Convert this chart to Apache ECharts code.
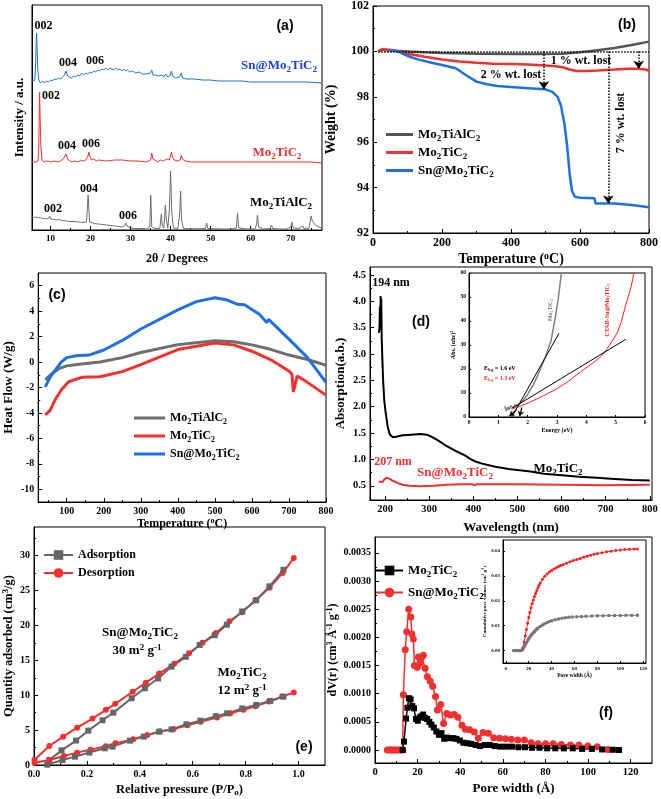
<!DOCTYPE html>
<html><head><meta charset="utf-8">
<script src="https://cdn.jsdelivr.net/npm/echarts@6/dist/echarts.min.js"></script>
<style>html,body{margin:0;padding:0;background:#fff}#c{width:661px;height:799px}</style>
</head><body><div id="c"></div>
<script>
// ---------------- DATA ----------------
// (a) XRD, intensity in arbitrary offset units
const xrdSn = [[5.4,149],[5.8,148],[6.1,150],[6.3,165],[6.45,188],[6.55,197],[6.68,182],[6.85,160],[7.1,150],[7.5,147],[8,149],[8.5,147],[9,149],[9.5,148],[10,150],[10.5,149],[11,151],[11.5,150],[12,152],[12.5,151],[13,153],[13.5,155],[13.9,159],[14.3,154],[14.8,153],[15.3,152],[15.8,154],[16.3,153],[16.8,155],[17.3,154],[17.8,157],[18.3,155],[18.8,157],[19.3,156],[19.8,158],[20.3,157],[20.8,159],[21.3,158],[21.8,160],[22.3,159],[22.8,161],[23.3,160],[23.8,162],[24.3,160],[24.8,162],[25.3,161],[25.8,160],[26.3,162],[26.8,160],[27.3,161],[27.8,159],[28.3,161],[28.8,159],[29.3,160],[29.8,158],[30.5,159],[31.3,157],[32.1,158],[33,156],[34,156],[35,157],[35.3,160],[35.6,155],[36.3,155],[37,154],[37.8,155],[38.3,153],[38.8,156],[39.3,153],[39.8,154],[40.2,159],[40.5,154],[41.3,152],[42.2,153],[42.7,157],[43,152],[44,151],[46,151],[48,150],[50,150],[52,149],[55,149],[58,149],[60,148],[63,148],[66,148],[70,148],[74,148],[77.8,147]];
const xrdMx = [[5.4,68],[6.3,68],[6.9,69],[7.1,85],[7.22,120],[7.3,138],[7.4,118],[7.6,85],[7.9,70],[8.4,68],[9,69],[10,68],[11,69],[12,68],[12.9,70],[13.5,73],[13.9,76],[14.3,71],[14.8,69],[15.5,68],[16,69],[17,68],[17.5,70],[18,69],[18.8,70],[19.3,73],[19.6,78],[19.9,73],[20.3,70],[20.8,71],[21.5,69],[22,70],[24,69],[26,70],[28,70],[30,69],[32,69],[34,68],[35,70],[35.3,77],[35.6,71],[36,69],[36.8,68],[37.5,70],[37.8,72],[38.2,69],[39,71],[39.7,70],[40.0,74],[40.2,78],[40.45,73],[40.9,70],[41.8,69],[42.4,70],[42.7,75],[43,71],[43.6,69],[45,68],[48,68],[52,68],[56,68],[60,68],[65,68],[70,68],[75,68],[77.8,67]];
const xrdMax = [[5.4,13],[6,12.5],[6.5,13],[7,12],[7.5,12.5],[8,11.5],[8.5,11.5],[9,11],[9.5,11.5],[9.8,14],[10.1,11],[10.5,10.5],[11.5,10],[12,10.5],[13,9.5],[14,9],[15,8.5],[16,8.5],[17,8],[18,7.5],[19,8],[19.2,20],[19.4,35],[19.6,20],[19.8,8],[20,7],[21,6.5],[22,6],[23,5.5],[24,5],[25,4.5],[26,4],[27,3.5],[28,3],[28.6,4.5],[28.85,7],[29.1,4],[29.5,2.5],[30,2],[31,1.5],[32,1.5],[33,1.5],[34,1.2],[34.8,3],[35.05,35],[35.3,3],[35.8,2],[36.1,4],[36.4,1.5],[37.3,1.5],[37.5,8],[37.7,16],[37.9,5],[38.3,2],[38.5,12],[38.7,25],[38.9,12],[39.3,2],[39.7,20],[40.0,59],[40.3,18],[40.7,2],[41.8,1.5],[42.25,15],[42.5,39],[42.75,10],[43.2,1.5],[45,1.2],[47,1.2],[48.7,1.5],[49,7],[49.3,1.5],[51,1.2],[53,1],[55,1],[56.4,2],[56.7,17],[57,2],[59,1],[61,1],[61.45,5],[61.7,15],[62,3],[63,1],[64.9,1.5],[65.2,5],[65.5,1.5],[67,1],[69,1],[70.0,3],[70.3,8],[70.6,2],[72,1.5],[73,4],[73.3,1.5],[74.6,2],[74.9,10],[75.1,14],[75.4,9],[75.7,10],[76.1,5],[77,3],[77.8,2]];
const xrdTicks = [10,20,30,40,50,60,70];

// (b) TGA weight %
const tgaMax = [[15,100.0],[25,100.08],[40,100.05],[60,100.03],[100,100.0],[150,99.96],[200,99.93],[300,99.9],[400,99.88],[500,99.88],[550,99.9],[600,99.96],[650,100.05],[700,100.15],[750,100.28],[800,100.43]];
const tgaMx = [[15,100.0],[25,100.08],[40,100.08],[60,100.05],[80,99.98],[100,99.9],[150,99.76],[200,99.64],[250,99.55],[300,99.5],[350,99.46],[400,99.44],[450,99.42],[500,99.38],[530,99.35],[550,99.3],[570,99.2],[590,99.14],[620,99.14],[650,99.16],[700,99.2],[740,99.24],[770,99.24],[790,99.2],[800,99.15]];
const tgaSn = [[45,100.05],[60,100.05],[80,99.95],[100,99.8],[130,99.65],[170,99.5],[200,99.4],[240,99.26],[270,98.95],[300,98.67],[330,98.55],[360,98.48],[400,98.43],[450,98.38],[500,98.33],[520,98.22],[535,98.0],[545,97.6],[555,96.8],[563,95.8],[570,94.6],[577,93.85],[585,93.6],[600,93.55],[642,93.53],[645,93.3],[700,93.3],[750,93.23],[800,93.13]];
const tgaBase = [[15,100],[800,100]];
const tgaArrows = [[495,98.33],[682,93.3],[770,99.24]];

// (c) DSC heat flow
const dscMax = [[42,-1.4],[60,-0.9],[80,-0.5],[100,-0.3],[140,-0.15],[190,0],[250,0.35],[300,0.75],[400,1.37],[500,1.68],[550,1.6],[600,1.35],[650,1.0],[700,0.55],[750,0.2],[800,-0.25]];
const dscMx = [[42,-4.15],[55,-3.8],[70,-2.9],[85,-2.2],[105,-1.55],[140,-1.2],[190,-1.15],[250,-0.75],[300,-0.2],[400,0.98],[500,1.5],[550,1.35],[600,0.85],[650,0.2],[700,-0.7],[708,-0.95],[712,-2.35],[716,-2.2],[722,-1.1],[740,-1.4],[800,-2.6]];
const dscSn = [[42,-1.95],[55,-1.2],[70,-0.6],[85,0.0],[100,0.35],[125,0.5],[160,0.55],[200,0.95],[250,1.7],[300,2.6],[400,4.1],[450,4.75],[500,5.05],[530,4.9],[560,4.55],[580,4.5],[620,3.75],[640,3.1],[645,3.35],[700,1.8],[750,0.35],[800,-1.6]];

// (d) UV-vis absorption
const uvMx = [[186,3.4],[187.5,3.5],[188.5,3.9],[189.3,3.45],[190,4.1],[190.8,3.5],[191.5,4.05],[192.5,3.3],[194,2.9],[196,2.45],[198.5,2.1],[201,1.92],[206,1.62],[211,1.47],[218,1.42],[225,1.43],[240,1.46],[260,1.47],[280,1.48],[295,1.47],[305,1.43],[320,1.36],[340,1.25],[360,1.16],[380,1.08],[395,1.0],[405,0.96],[420,0.92],[450,0.86],[480,0.82],[500,0.8],[530,0.77],[560,0.73],[600,0.7],[640,0.67],[680,0.65],[720,0.63],[760,0.61],[800,0.6]];
const uvSn = [[186,0.58],[190,0.55],[194,0.57],[198,0.62],[203,0.65],[207,0.66],[211,0.63],[216,0.6],[222,0.58],[230,0.55],[240,0.52],[255,0.5],[280,0.49],[310,0.5],[340,0.52],[370,0.53],[398,0.53],[403,0.51],[408,0.53],[450,0.53],[500,0.53],[600,0.52],[700,0.51],[800,0.52]];
// (d) inset Tauc plot
const egMx = [[1.22,4.5],[1.27,2.5],[1.32,4.2],[1.37,3],[1.42,4.8],[1.5,3.8],[1.58,5.2],[1.66,4.6],[1.75,6],[1.85,7],[2.0,9.5],[2.2,13.5],[2.4,19],[2.6,25],[2.8,32],[2.95,42],[3.05,50],[3.15,60]];
const egSn = [[1.5,3.5],[1.8,4.8],[2.1,6.3],[2.5,8.6],[3.0,11.8],[3.4,15],[3.8,18.8],[4.2,22.3],[4.5,25.2],[4.7,28.2],[4.9,32],[5.05,35],[5.2,40],[5.35,47],[5.5,53],[5.63,60]];
const tanMx = [[1.46,0],[3.07,34.9]];
const tanSn = [[1.45,3.5],[5.35,32.4]];

// (e) N2 isotherms
const betSnAds = [[0.058,0.72],[0.104,2.1],[0.159,3.5],[0.205,4.92],[0.259,6.41],[0.3,7.5],[0.369,9.57],[0.419,11.0],[0.469,12.4],[0.52,14.1],[0.574,15.5],[0.626,17.2],[0.683,18.6],[0.729,20.1],[0.787,22.0],[0.84,23.6],[0.89,25.6],[0.943,27.97]];
const betSnDes = [[0.002,0.75],[0.058,2.72],[0.11,4.06],[0.163,5.35],[0.221,6.65],[0.272,7.9],[0.307,8.76],[0.373,10.5],[0.423,11.8],[0.473,13.1],[0.53,14.5],[0.586,16.0],[0.637,17.5],[0.688,18.9],[0.739,20.6],[0.787,21.9],[0.837,23.6],[0.89,25.4],[0.94,27.5],[0.982,29.65]];
const betMxAds = [[0.05,0.05],[0.108,0.72],[0.155,1.2],[0.209,1.78],[0.268,2.39],[0.297,2.63],[0.363,3.49],[0.415,4.06],[0.473,4.78],[0.52,5.1],[0.576,5.83],[0.629,6.35],[0.687,7.0],[0.73,7.4],[0.787,8.1],[0.84,8.6],[0.893,9.18],[0.943,9.8]];
const betMxDes = [[0.002,0.33],[0.058,0.72],[0.113,1.3],[0.163,1.77],[0.214,2.2],[0.272,2.7],[0.308,3.1],[0.375,3.7],[0.428,4.3],[0.476,4.8],[0.528,5.15],[0.58,5.7],[0.63,6.2],[0.692,6.8],[0.742,7.4],[0.792,7.9],[0.837,8.4],[0.888,9.1],[0.938,9.8],[0.982,10.38]];

// (f) pore size distribution
const psdMx = [[13,0],[13.6,0.00015],[14.6,0.00056],[15.2,0.00075],[15.9,0.00092],[16.7,0.0009],[17.5,0.00078],[18.3,0.00074],[19.2,0.00055],[20.1,0.00052],[21,0.00058],[21.8,0.0006],[22.6,0.00063],[23.5,0.00057],[24.5,0.00055],[25.5,0.0005],[26.5,0.00045],[27.6,0.0004],[28.8,0.00033],[30,0.00027],[31.2,0.0003],[32.5,0.0002],[33.8,0.00022],[35.2,0.00021],[36.7,0.00021],[38.2,0.0002],[39.8,0.00017],[41.5,0.00013],[43.3,0.00012],[45.2,0.00011],[47.2,0.00009],[49.3,0.00007],[51.5,0.00009],[53.8,0.00009],[56.2,0.00007],[58.8,0.00006],[61.5,0.00006],[64.3,0.00006],[67.3,0.00005],[70.4,0.00005],[73.7,0.00004],[77.2,0.00004],[80.8,0.00003],[84.6,0.00003],[88.6,0.00003],[92.8,0.00003],[97.2,0.00002],[101.8,0.00002],[106.6,0.00001],[111.6,0.000005],[114.5,0]];
const psdSn = [[5.8,0],[6.7,0],[7.6,0],[8.5,0],[9.4,0],[10.3,0],[11.2,0],[12.1,0],[13,0],[13.3,0.00098],[14.2,0.00178],[14.9,0.0021],[15.8,0.0025],[16.8,0.00236],[17.3,0.00206],[18,0.00197],[18.5,0.0015],[19.9,0.00147],[20.4,0.00165],[21.2,0.00155],[22,0.00165],[22.7,0.00168],[23.5,0.00145],[24.6,0.0013],[25.9,0.00122],[27.1,0.00113],[28.4,0.00095],[29.3,0.00071],[30.9,0.00081],[32.2,0.00047],[33.7,0.00065],[35.3,0.00062],[37.2,0.00063],[38.9,0.00058],[40.8,0.00044],[42.4,0.00037],[44.4,0.00036],[46.6,0.00032],[48.5,0.00021],[50.7,0.00031],[53.2,0.0003],[55.7,0.00022],[58.5,0.00021],[61.2,0.0002],[64,0.00019],[67,0.00018],[70.1,0.00018],[73.3,0.00013],[76.5,0.00011],[80.1,0.00011],[83.6,0.00011],[87.4,0.0001],[91.8,0.00009],[95.7,0.00009],[99.9,0.00007],[104.3,0.00006],[109.3,0.00001]];
// (f) inset cumulative pore volume
const cumSn = [[7,0],[8,0],[9,0],[10,0],[11,0],[12,0],[13,0],[14,0.0003],[15,0.0012],[16,0.0035],[17,0.006],[18,0.0085],[19,0.011],[20,0.0133],[21,0.0153],[22,0.0172],[23,0.0189],[24,0.0204],[25,0.0218],[26,0.023],[27,0.0242],[28,0.0253],[29,0.0263],[30,0.0272],[32,0.0287],[34,0.0299],[36,0.0308],[38,0.0316],[40,0.0322],[42,0.0328],[44,0.0333],[46,0.0338],[48,0.0342],[50,0.0346],[53,0.0351],[56,0.0357],[59,0.0362],[62,0.0367],[65,0.0371],[68,0.0376],[71,0.038],[74,0.0384],[77,0.0388],[80,0.0391],[84,0.0394],[88,0.0398],[92,0.04],[96,0.0403],[100,0.0405],[104,0.0407],[108,0.0408],[112,0.0409],[115,0.0409]];
const cumMx = [[7,0],[8,0],[9,0],[10,0],[11,0],[12,0],[13,0],[14,0.0001],[15,0.0006],[16,0.0015],[17,0.0024],[18,0.0032],[19,0.004],[20,0.0048],[21,0.0055],[22,0.0061],[23,0.0067],[24,0.0072],[25,0.0077],[26,0.0082],[27,0.0087],[28,0.009],[30,0.0097],[32,0.0103],[34,0.0108],[36,0.0113],[38,0.0117],[40,0.012],[43,0.0124],[46,0.0127],[49,0.013],[52,0.0132],[55,0.0134],[58,0.0135],[62,0.0136],[66,0.0137],[70,0.0138],[75,0.0139],[80,0.014],[85,0.014],[90,0.0141],[95,0.0141],[100,0.0141],[105,0.0142],[110,0.0142],[115,0.0142]];

// ---------------- STYLE / HELPERS ----------------
const F = 'Liberation Serif', FS = 'Liberation Sans';
const BLUE = '#1f6fe5', RED = '#f23030', GRAY = '#6e6e6e', BLUET = '#1c3fd8';
function richC(fs, color, key) {
  key = key || 'color';
  const sub = Math.round(fs * 0.68), lh = Math.round(fs * 0.7);
  const s = {fontFamily: F, fontWeight: 'bold', fontSize: sub, lineHeight: lh, verticalAlign: 'bottom'};
  const p = {fontFamily: F, fontWeight: 'bold', fontSize: sub, lineHeight: lh, verticalAlign: 'top'};
  s[key] = color; p[key] = color;
  return {s, p};
}
const chem = s => s.replace(/(\d)/g, '{s|$1}');

const xAxis = [], yAxis = [];
function ax(list, pos, grid, min, max, majors, minors, lab) {
  lab = lab || {};
  const idx = list.length;
  const a = {type: 'value', gridIndex: grid, min, max, position: pos,
    axisLine: {show: true, onZero: false, lineStyle: {color: '#000', width: 1}},
    axisTick: majors ? {show: true, inside: true, length: lab.tl || 4, customValues: majors, lineStyle: {color: '#000', width: 1}} : {show: false},
    axisLabel: majors ? {show: true, customValues: majors, margin: lab.margin == null ? 4 : lab.margin, color: '#000', fontFamily: F, fontWeight: 'bold', fontSize: lab.fs || 10, formatter: lab.fmt} : {show: false},
    splitLine: {show: false}};
  if (lab.name) {
    a.name = lab.name; a.nameLocation = 'middle'; a.nameGap = lab.gap;
    a.nameTextStyle = {fontFamily: F, fontWeight: 'bold', fontSize: lab.nfs, color: '#000', lineHeight: Math.round(lab.nfs * 1.2), rich: richC(lab.nfs, '#000')};
  }
  list.push(a);
  if (minors) list.push({type: 'value', gridIndex: grid, min, max, position: pos,
    axisLine: {show: false, onZero: false}, axisLabel: {show: false},
    axisTick: {show: true, inside: true, length: 2, customValues: minors, lineStyle: {color: '#000'}}, splitLine: {show: false}});
  return idx;
}
function line(name, xi, yi, data, color, width, extra) {
  return Object.assign({type: 'line', name, xAxisIndex: xi, yAxisIndex: yi, data, symbol: 'none',
    lineStyle: {color, width}, itemStyle: {color}, silent: true, z: 3}, extra || {});
}
function txt(x, y, text, fs, color, opt) {
  opt = opt || {};
  return {type: 'text', x, y, rotation: opt.rot || 0, z: 100, silent: true,
    style: {text, fill: color, fontFamily: opt.ff || F, fontWeight: 'bold', fontSize: fs,
      lineHeight: Math.round(fs * 1.25), align: opt.align || 'center', verticalAlign: 'middle',
      rich: richC(fs, color, 'fill')}};
}
function leg(left, top, names, gap, fs, iw, ih, icon) {
  return {left, top, orient: 'vertical', data: names.map(n => icon ? {name: n, icon} : n),
    itemWidth: iw, itemHeight: ih, itemGap: gap, padding: 0,
    selectedMode: false, formatter: n => chem(n.split('|')[1]),
    textStyle: {fontFamily: F, fontWeight: 'bold', fontSize: fs, color: '#000', lineHeight: Math.round(fs * 1.3), rich: richC(fs, '#000')}};
}
const fx = d => v => v.toFixed(d);

// ---------------- GRIDS ----------------
const G = (left, top, width, height, bg) => ({left, top, width, height, show: true, borderColor: '#000', borderWidth: 1, backgroundColor: bg || 'transparent', containLabel: false});
const grid = [
  G(32, 5, 290, 225), G(373, 6, 279, 227), G(32, 273, 294, 229),
  G(370, 267, 282, 233), G(34, 527, 291, 238), G(375, 537, 277, 226),
  G(469, 273, 176, 144, '#fff'), G(503, 540, 143, 123, '#fff')
];

// ---------------- AXES ----------------
const xa = ax(xAxis, 'bottom', 0, 5.4, 77.8, xrdTicks, [15,25,35,45,55,65,75], {fs: 9, name: '2θ / Degrees', gap: 22, nfs: 12});
const ya = ax(yAxis, 'left', 0, 0, 225, null, null, {name: 'Intensity / a.u.', gap: 4, nfs: 13});
const xb = ax(xAxis, 'bottom', 1, 0, 800, [0,200,400,600,800], [100,300,500,700], {fs: 12, name: 'Temperature ({p|o}C)', gap: 18, nfs: 14});
const yb = ax(yAxis, 'left', 1, 92, 102, [92,94,96,98,100,102], [93,95,97,99,101], {fs: 12, name: 'Weight (%)', gap: 33, nfs: 14});
const xc = ax(xAxis, 'bottom', 2, 23, 800, [100,200,300,400,500,600,700,800], [50,150,250,350,450,550,650,750], {fs: 10, name: 'Temperature ({p|o}C)', gap: 14, nfs: 12});
const yc = ax(yAxis, 'left', 2, -11, 7, [-10,-8,-6,-4,-2,0,2,4,6], [-9,-7,-5,-3,-1,1,3,5], {fs: 10, name: 'Heat Flow (W/g)', gap: 18, nfs: 13});
const xd = ax(xAxis, 'bottom', 3, 166, 805, [200,300,400,500,600,700,800], [250,350,450,550,650,750], {fs: 10.5, name: 'Wavelength (nm)', gap: 20, nfs: 13});
const yd = ax(yAxis, 'left', 3, 0.23, 4.65, [0.5,1,1.5,2,2.5,3,3.5,4,4.5], [0.75,1.25,1.75,2.25,2.75,3.25,3.75,4.25], {fs: 10.5, fmt: fx(1), name: 'Absorption(a.b.)', gap: 19, nfs: 13});
const xe = ax(xAxis, 'bottom', 4, 0, 1.1, [0,0.2,0.4,0.6,0.8,1.0], [0.1,0.3,0.5,0.7,0.9], {fs: 10, fmt: fx(1), name: 'Relative pressure (P/P{s|o})', gap: 17, nfs: 12.5});
const ye = ax(yAxis, 'left', 4, 0, 34.1, [0,5,10,15,20,25,30], [2.5,7.5,12.5,17.5,22.5,27.5,32.5], {fs: 10, name: 'Quantity adsorbed (cm{p|3}/g)', gap: 17, nfs: 12.5});
const xf = ax(xAxis, 'bottom', 5, 0, 130, [0,20,40,60,80,100,120], [10,30,50,70,90,110], {fs: 10.5, name: 'Pore width (Å)', gap: 18, nfs: 13});
const yf = ax(yAxis, 'left', 5, -0.00023, 0.00378, [0,0.0005,0.001,0.0015,0.002,0.0025,0.003,0.0035], [0.00025,0.00075,0.00125,0.00175,0.00225,0.00275,0.00325], {fs: 10, fmt: fx(4), name: 'dV(r) (cm{p|3} Å{p|-1} g{p|-1})', gap: 28, nfs: 12});
const xdi = ax(xAxis, 'bottom', 6, 0, 6, [0,1,2,3,4,5,6], null, {fs: 5.5, tl: 2, margin: 3, name: 'Energy (eV)', gap: 8, nfs: 6});
const ydi = ax(yAxis, 'left', 6, 0, 60, [0,10,20,30,40,50,60], null, {fs: 5.5, tl: 2, margin: 3, name: 'Abs. (αhν){p|2}', gap: 10, nfs: 6});
const xfi = ax(xAxis, 'bottom', 7, -2.5, 122.5, [0,20,40,60,80,100,120], null, {fs: 5, tl: 2, margin: 3, name: 'Pore width (Å)', gap: 8, nfs: 5.5});
const yfi = ax(yAxis, 'left', 7, -0.005, 0.0445, [0,0.01,0.02,0.03,0.04], null, {fs: 5, tl: 2, margin: 3, fmt: fx(2), name: 'Cumulative pore volume (cm{p|3} g{p|-1})', gap: 12, nfs: 5});

// ---------------- SERIES ----------------
const arrowLine = (a, b) => [{coord: a}, {coord: b}];
const series = [
  // (a)
  line('a|Mo2TiAlC2', xa, ya, xrdMax, GRAY, 1),
  line('a|Mo2TiC2', xa, ya, xrdMx, RED, 1),
  line('a|Sn@Mo2TiC2', xa, ya, xrdSn, BLUE, 1),
  // (b)
  line('b|Mo2TiAlC2', xb, yb, tgaMax, '#555', 2.5),
  line('b|Mo2TiC2', xb, yb, tgaMx, RED, 2.5),
  line('b|Sn@Mo2TiC2', xb, yb, tgaSn, BLUE, 2.5, {
    markLine: {silent: true, animation: false, symbol: ['none', 'arrow'], symbolSize: 8,
      label: {show: false}, lineStyle: {type: 'dotted', color: '#000', width: 1.5},
      data: [
        [{coord: tgaBase[0], symbol: 'none'}, {coord: tgaBase[1], symbol: 'none'}],
        arrowLine([tgaArrows[0][0], 100], tgaArrows[0]),
        arrowLine([tgaArrows[1][0], 100], tgaArrows[1]),
        arrowLine([tgaArrows[2][0], 100], tgaArrows[2])
      ]}}),
  // (c)
  line('c|Mo2TiAlC2', xc, yc, dscMax, GRAY, 3),
  line('c|Mo2TiC2', xc, yc, dscMx, RED, 3),
  line('c|Sn@Mo2TiC2', xc, yc, dscSn, BLUE, 3),
  // (d)
  line('d|Mo2TiC2', xd, yd, uvMx, '#000', 2),
  line('d|Sn@Mo2TiC2', xd, yd, uvSn, RED, 2),
  line('di|Mo2TiC2', xdi, ydi, egMx, '#808080', 1.5, {z: 10}),
  line('di|Sn', xdi, ydi, egSn, '#ff2020', 1, {z: 10}),
  line('di|t1', xdi, ydi, tanMx, '#000', 1, {z: 11}),
  line('di|t2', xdi, ydi, tanSn, '#000', 1, {z: 11, markLine: {silent: true, animation: false, symbol: ['none', 'arrow'], symbolSize: 5,
    label: {show: false}, lineStyle: {type: 'solid', color: '#000', width: 1.2},
    data: [arrowLine([1.62, 3], [1.38, 0.4]), arrowLine([1.8, 4], [1.73, 0.4])]}}),
  // (e)
  line('e|Desorption', xe, ye, betSnDes, RED, 2, {symbol: 'circle', symbolSize: 6, showSymbol: true}),
  line('e|Adsorption', xe, ye, betSnAds, '#666', 2, {symbol: 'rect', symbolSize: 6, showSymbol: true}),
  line('e2|Desorption', xe, ye, betMxDes, RED, 2, {symbol: 'circle', symbolSize: 6, showSymbol: true}),
  line('e2|Adsorption', xe, ye, betMxAds, '#666', 2, {symbol: 'rect', symbolSize: 6, showSymbol: true}),
  // (f)
  line('f|Sn@Mo2TiC2', xf, yf, psdSn, RED, 1.5, {symbol: 'circle', symbolSize: 7, showSymbol: true}),
  line('f|Mo2TiC2', xf, yf, psdMx, '#000', 1.5, {symbol: 'rect', symbolSize: 6, showSymbol: true}),
  line('fi|Sn', xfi, yfi, cumSn, '#ff2020', 1, {symbol: 'circle', symbolSize: 3, showSymbol: true, z: 10}),
  line('fi|Mx', xfi, yfi, cumMx, '#777', 1, {symbol: 'rect', symbolSize: 3, showSymbol: true, z: 10})
];

// ---------------- LEGENDS ----------------
const legend = [
  leg(386, 126, ['b|Mo2TiAlC2', 'b|Mo2TiC2', 'b|Sn@Mo2TiC2'], 1, 13, 27, 3, 'rect'),
  leg(134, 410, ['c|Mo2TiAlC2', 'c|Mo2TiC2', 'c|Sn@Mo2TiC2'], 2, 12, 31, 3, 'rect'),
  leg(43, 547, ['e|Adsorption', 'e|Desorption'], 2, 12, 29, 12),
  leg(375, 562, ['f|Mo2TiC2', 'f|Sn@Mo2TiC2'], 5, 13, 27, 12)
];

// ---------------- ANNOTATIONS ----------------
const graphic = [
  // (a)
  txt(285, 26, '(a)', 14, '#000', {ff: FS}),
  txt(43.5, 26, '002', 12, '#000'), txt(68, 63, '004', 12, '#000'), txt(95, 61, '006', 12, '#000'),
  txt(279, 66, chem('Sn@Mo2TiC2'), 13, BLUET),
  txt(51, 96, '002', 12, '#000'), txt(67, 146, '004', 12, '#000'), txt(91, 144, '006', 12, '#000'),
  txt(277, 153, chem('Mo2TiC2'), 13, RED),
  txt(53, 209, '002', 12, '#000'), txt(89, 189, '004', 12, '#000'), txt(128, 216, '006', 12, '#000'),
  txt(281, 203, chem('Mo2TiAlC2'), 13, '#000'),
  // (b)
  txt(627, 25, '(b)', 14, '#000', {ff: FS}),
  txt(581, 61, '1 % wt. lost', 12, '#000'),
  txt(511, 75, '2 % wt. lost', 12, '#000'),
  txt(621, 123, '7 % wt. lost', 12, '#000', {rot: Math.PI / 2}),
  // (c)
  txt(57, 295, '(c)', 14, '#000', {ff: FS}),
  // (d)
  txt(391, 283, '194 nm', 12, '#000'),
  txt(421, 322, '(d)', 14, '#000', {ff: FS}),
  txt(393, 462, '207 nm', 12, RED),
  txt(455, 473, chem('Sn@Mo2TiC2'), 13, RED),
  txt(558, 469, chem('Mo2TiC2'), 13, '#000'),
  txt(550, 310, chem('Mo2TiC2'), 6, '#808080', {rot: Math.PI / 2}),
  txt(607, 310, chem('CTAB-Sn@Mo2TiC2'), 6, '#ff2020', {rot: Math.PI / 2}),
  txt(484, 368, 'E{s|b.g} = 1.6 eV', 6, '#000', {align: 'left'}),
  txt(484, 378, 'E{s|b.g} = 1.3 eV', 6, '#ff2020', {align: 'left'}),
  // (e)
  txt(140, 633, chem('Sn@Mo2TiC2'), 13, '#000'),
  txt(137, 651, '30 m{p|2} g{p|-1}', 13, '#000'),
  txt(242, 673, chem('Mo2TiC2'), 13, '#000'),
  txt(242, 691, '12 m{p|2} g{p|-1}', 13, '#000'),
  txt(304, 747, '(e)', 14, '#000', {ff: FS}),
  // (f)
  txt(606, 713, '(f)', 14, '#000', {ff: FS})
];

const chart = echarts.init(document.getElementById('c'));
chart.setOption({
  animation: false,
  backgroundColor: '#fff',
  textStyle: {fontFamily: F},
  grid, xAxis, yAxis, series, legend, graphic
});
</script></body></html>
